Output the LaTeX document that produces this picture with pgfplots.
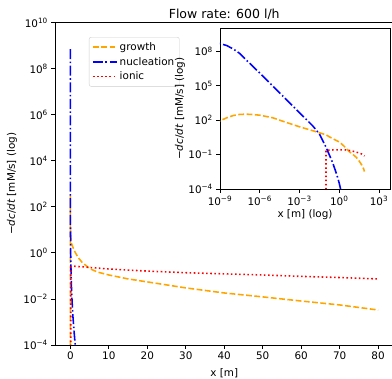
\documentclass[border=0pt]{standalone}
\usepackage{fontspec}
\setmainfont{DejaVu Sans}
\usepackage{pgfplots}
\usepackage{pgfplotstable}
\pgfplotsset{compat=1.18}
\definecolor{mplorange}{HTML}{FFA500}
\definecolor{mplblue}{HTML}{0000FF}
\definecolor{mplred}{HTML}{FF0000}

\pgfplotstableread{
x y
0 1e-8
1e-10 39.8
1e-9 87.1
3.162e-9 158.5
1e-8 251
3.162e-8 316
1e-7 330
3.162e-7 305
1e-6 269
1e-5 158
1e-4 63.1
1e-3 26.3
1e-2 12.0
0.1 5.25
0.3 2.51
1 1.26
2 0.631
3 0.398
5 0.209
7 0.148
10 0.110
15 0.0741
20 0.0550
30 0.0302
40 0.0182
50 0.0123
60 0.00813
70 0.00550
80 0.00331
}\growth

\pgfplotstableread{
x y
1e-10 7.08e8
1e-9 4.68e8
3.162e-9 3.16e8
1e-8 1.585e8
3.162e-8 6.31e7
1e-7 1.66e7
1e-6 1.26e6
1e-5 8.91e4
1e-4 6.31e3
1e-3 446.7
1e-2 31.6
0.03162 6.31
0.1 0.447
0.3162 0.01995
0.631 0.001995
1 3.16e-4
1.259 1e-4
1.585 2.5e-5
}\nucleation

\pgfplotstableread{
x y
0.1 1e-8
0.1 0.24
0.3 0.251
1 0.263
3 0.251
5 0.234
10 0.2
20 0.162
30 0.138
40 0.123
50 0.110
60 0.0955
70 0.0851
80 0.0741
}\ionic

\pgfplotsset{
  every axis/.append style={font=\fontsize{10.4}{12.5}\selectfont},
  every axis title shift=0pt,
  mystyle/.style={
    scale only axis,
    axis line style={black, line width=0.83pt},
    tick align=outside,
    major tick length=3.6pt,
    every tick/.style={black, line width=0.83pt},
    tick label style={font=\fontsize{10.4}{12.5}\selectfont},
    xtick pos=bottom, ytick pos=left,
    minor tick num=0,
  },
  growthstyle/.style={mplorange, line width=1.56pt, dash pattern=on 5.8pt off 2.5pt},
  nuclstyle/.style={mplblue, line width=1.56pt, dash pattern=on 10pt off 2.5pt on 1.56pt off 2.5pt},
  ionicstyle/.style={mplred, line width=1.56pt, dash pattern=on 1.56pt off 2.57pt},
}

\begin{document}
\begin{tikzpicture}
\begin{axis}[mystyle,
  at={(0pt,0pt)}, anchor=south west,
  width=338.5pt, height=322.3pt,
  xmin=-4, xmax=84,
  ymode=log, ymin=1e-4, ymax=1e10,
  xtick={0,10,20,30,40,50,60,70,80},
  xticklabels={0,10,20,30,40,50,60,70,80},
  ytick={1e-4,1e-2,1,1e2,1e4,1e6,1e8,1e10},
  yticklabels={10\textsuperscript{−4},10\textsuperscript{−2},10\textsuperscript{0},10\textsuperscript{2},10\textsuperscript{4},10\textsuperscript{6},10\textsuperscript{8},10\textsuperscript{10}},
  minor ytick={},
  xlabel={x [m]},
  ylabel={−\textit{dc}/\textit{dt} [mM/s] (log)},
  title={Flow rate: 600 l/h},
  title style={at={(axis description cs:0.5,1.0135)}, anchor=base, font=\fontsize{12.5}{15}\selectfont},
  xlabel style={at={(axis description cs:0.5,-0.0962)}, anchor=base},
  ylabel style={at={(axis description cs:-0.127,0.5)}, anchor=center, rotate=0},
  legend style={at={(axis description cs:0.1004,0.9556)}, anchor=north west,
    draw=black!20, rounded corners=2pt, fill=white,
    font=\fontsize{10.4}{12.5}\selectfont,
    row sep=1.5pt, inner xsep=3pt, inner ysep=3pt},
  legend cell align=left,
  legend image code/.code={\draw[#1] (0pt,0pt) -- (24pt,0pt);},
]
\addplot[growthstyle] table[x=x,y=y] {\growth};
\addlegendentry{growth}
\addplot[nuclstyle] table[x=x,y=y] {\nucleation};
\addlegendentry{nucleation}
\addplot[ionicstyle] table[x=x,y=y] {\ionic};
\addlegendentry{ionic}
\end{axis}

\begin{axis}[mystyle,
  at={(165pt,156pt)}, anchor=south west,
  width=170pt, height=160.7pt,
  axis background/.style={fill=white},
  xmode=log, ymode=log,
  xmin=1e-9, xmax=6761,
  ymin=1e-4, ymax=1e10,
  xtick={1e-9,1e-6,1e-3,1,1e3},
  xticklabels={10\textsuperscript{−9},10\textsuperscript{−6},10\textsuperscript{−3},10\textsuperscript{0},10\textsuperscript{3}},
  ytick={1e-4,1e-1,1e2,1e5,1e8},
  yticklabels={10\textsuperscript{−4},10\textsuperscript{−1},10\textsuperscript{2},10\textsuperscript{5},10\textsuperscript{8}},
  minor xtick={}, minor ytick={},
  xlabel={x [m] (log)},
  ylabel={−\textit{dc}/\textit{dt} [mM/s] (log)},
  xlabel style={at={(axis description cs:0.5,-0.177)}, anchor=base},
  ylabel style={at={(axis description cs:-0.235,0.5)}, anchor=center, rotate=0},
]
\addplot[growthstyle] table[x=x,y=y] {\growth};
\addplot[nuclstyle] table[x=x,y=y] {\nucleation};
\addplot[ionicstyle] table[x=x,y=y] {\ionic};
\end{axis}
\pgfresetboundingbox
\path[use as bounding box] (-55pt,-34pt) rectangle (337pt,345pt);
\end{tikzpicture}
\end{document}
